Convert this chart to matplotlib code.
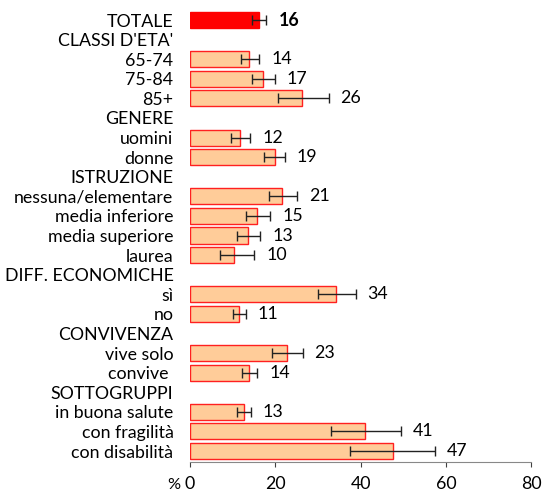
import matplotlib
matplotlib.use('Agg')
import matplotlib.pyplot as plt
import numpy as np

plt.rcParams['font.family'] = ['Lato', 'DejaVu Sans']

# rows from top to bottom; None = header row without bar
labels = ['TOTALE', "CLASSI D'ETA'", '65-74', '75-84', '85+',
          'GENERE', 'uomini', 'donne',
          'ISTRUZIONE', 'nessuna/elementare', 'media inferiore', 'media superiore', 'laurea',
          'DIFF. ECONOMICHE', 'sì', 'no',
          'CONVIVENZA', 'vive solo', 'convive ',
          'SOTTOGRUPPI', 'in buona salute', 'con fragilità', 'con disabilità']
values = [16.2, None, 13.8, 17.0, 26.3,
          None, 11.8, 19.8,
          None, 21.5, 15.7, 13.6, 10.2,
          None, 34.2, 11.4,
          None, 22.7, 13.8,
          None, 12.6, 41.1, 47.5]
low = [14.5, None, 11.9, 14.5, 20.7,
       None, 9.7, 17.4,
       None, 18.6, 13.1, 11.0, 6.9,
       None, 29.9, 10.0,
       None, 19.3, 12.2,
       None, 10.9, 33.1, 37.4]
high = [17.9, None, 16.2, 19.8, 32.5,
        None, 14.1, 22.2,
        None, 25.0, 18.8, 16.5, 15.1,
        None, 38.8, 13.0,
        None, 26.4, 15.8,
        None, 14.2, 49.5, 57.5]
shown = ['16', None, '14', '17', '26',
         None, '12', '19',
         None, '21', '15', '13', '10',
         None, '34', '11',
         None, '23', '14',
         None, '13', '41', '47']

fs = 12.8

fig = plt.figure(figsize=(5.51, 4.93), dpi=100)
ax = fig.add_axes([0.345, 0.0629, 0.619, 0.9164])

y = np.arange(len(labels))
for i, v in enumerate(values):
    if v is None:
        continue
    if i == 0:
        ax.barh(i, v, height=0.82, color='#FF0000', edgecolor='#FF0000', linewidth=1)
    else:
        ax.barh(i, v, height=0.82, color='#FFCC99', edgecolor='#FF2020', linewidth=1)
    ax.errorbar(v, i, xerr=[[v - low[i]], [high[i] - v]], fmt='none',
                ecolor='#222222', elinewidth=1, capsize=3.5, capthick=1)
    ax.text(high[i] + 2.8, i, shown[i], va='center', ha='left', fontsize=fs,
            fontweight='bold' if i == 0 else 'normal', color='black')

ax.set_yticks(y)
ax.set_yticklabels(labels, fontsize=fs)
ax.tick_params(axis='y', length=0, pad=12)
ax.set_ylim(22.56, -0.5)
ax.set_xlim(0, 80)
ax.set_xticks([0, 20, 40, 60, 80])
ax.tick_params(axis='x', labelsize=fs, direction='out', length=3.6, width=0.8,
               colors='#404040', pad=6.5)
for lbl in ax.get_xticklabels():
    lbl.set_color('black')
for s in ['top', 'right', 'left']:
    ax.spines[s].set_visible(False)
ax.spines['bottom'].set_color('#888888')

fig.text(174 / 551, 1 - 489 / 493, '%', fontsize=fs - 1, ha='center', va='baseline')

fig.savefig('out.png', dpi=100)
